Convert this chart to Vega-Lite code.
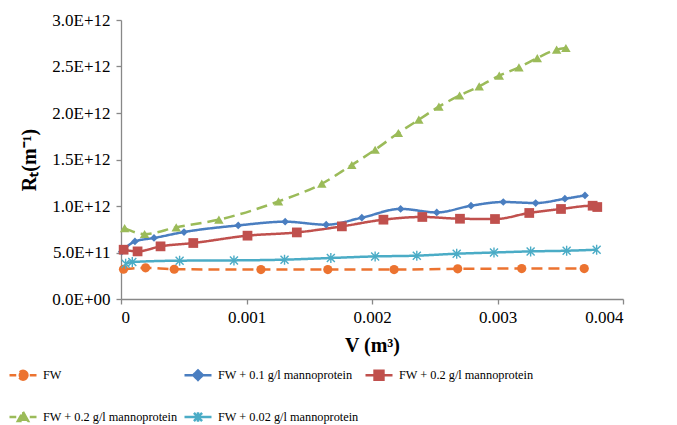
{
  "$schema": "https://vega.github.io/schema/vega-lite/v6.json",
  "autosize": {"type": "none"},
  "padding": {"left": 121, "top": 20, "right": 54, "bottom": 126},
  "width": 502,
  "height": 279,
  "background": "white",
  "config": {
    "view": {"stroke": null},
    "font": "Liberation Serif",
    "axis": {"grid": false, "domainColor": "#888888", "tickColor": "#888888", "domainWidth": 1.3, "tickWidth": 1.3, "labelColor": "#000000", "titleColor": "#000000", "labelFont": "Liberation Serif", "titleFont": "Liberation Serif", "labelFontSize": 17, "titleFontSize": 20, "titleFontWeight": "bold"}
  },
  "data": {
    "values": [
      {"s": "a", "x": 0.00002, "y": 3.2e11},
      {"s": "a", "x": 0.000196, "y": 3.35e11},
      {"s": "a", "x": 0.000424, "y": 3.2e11},
      {"s": "a", "x": 0.001115, "y": 3.17e11},
      {"s": "a", "x": 0.001648, "y": 3.17e11},
      {"s": "a", "x": 0.002176, "y": 3.17e11},
      {"s": "a", "x": 0.002683, "y": 3.25e11},
      {"s": "a", "x": 0.003193, "y": 3.27e11},
      {"s": "a", "x": 0.003691, "y": 3.27e11},

      {"s": "b", "x": 0.000006, "y": 5.09e11},
      {"s": "b", "x": 0.000111, "y": 6.19e11},
      {"s": "b", "x": 0.000263, "y": 6.56e11},
      {"s": "b", "x": 0.000502, "y": 7.2e11},
      {"s": "b", "x": 0.000934, "y": 7.91e11},
      {"s": "b", "x": 0.001308, "y": 8.31e11},
      {"s": "b", "x": 0.001635, "y": 7.99e11},
      {"s": "b", "x": 0.001919, "y": 8.74e11},
      {"s": "b", "x": 0.002228, "y": 9.69e11},
      {"s": "b", "x": 0.002516, "y": 9.31e11},
      {"s": "b", "x": 0.002789, "y": 1.003e12},
      {"s": "b", "x": 0.003046, "y": 1.043e12},
      {"s": "b", "x": 0.003304, "y": 1.032e12},
      {"s": "b", "x": 0.003537, "y": 1.078e12},
      {"s": "b", "x": 0.003697, "y": 1.114e12},

      {"s": "c", "x": 0.000021, "y": 5.3e11},
      {"s": "c", "x": 0.000132, "y": 5.12e11},
      {"s": "c", "x": 0.000315, "y": 5.66e11},
      {"s": "c", "x": 0.000576, "y": 6.02e11},
      {"s": "c", "x": 0.001008, "y": 6.81e11},
      {"s": "c", "x": 0.001401, "y": 7.16e11},
      {"s": "c", "x": 0.00176, "y": 7.81e11},
      {"s": "c", "x": 0.002091, "y": 8.53e11},
      {"s": "c", "x": 0.002401, "y": 8.82e11},
      {"s": "c", "x": 0.002701, "y": 8.63e11},
      {"s": "c", "x": 0.00298, "y": 8.6e11},
      {"s": "c", "x": 0.003253, "y": 9.25e11},
      {"s": "c", "x": 0.003506, "y": 9.68e11},
      {"s": "c", "x": 0.003758, "y": 1.003e12},
      {"s": "c", "x": 0.003795, "y": 9.89e11},

      {"s": "d", "x": 0.000029, "y": 7.63e11},
      {"s": "d", "x": 0.000188, "y": 6.99e11},
      {"s": "d", "x": 0.00044, "y": 7.7e11},
      {"s": "d", "x": 0.00078, "y": 8.53e11},
      {"s": "d", "x": 0.001255, "y": 1.049e12},
      {"s": "d", "x": 0.0016, "y": 1.24e12},
      {"s": "d", "x": 0.001839, "y": 1.441e12},
      {"s": "d", "x": 0.002025, "y": 1.605e12},
      {"s": "d", "x": 0.00221, "y": 1.785e12},
      {"s": "d", "x": 0.002373, "y": 1.928e12},
      {"s": "d", "x": 0.002533, "y": 2.068e12},
      {"s": "d", "x": 0.002698, "y": 2.188e12},
      {"s": "d", "x": 0.002854, "y": 2.286e12},
      {"s": "d", "x": 0.003014, "y": 2.401e12},
      {"s": "d", "x": 0.003171, "y": 2.49e12},
      {"s": "d", "x": 0.003317, "y": 2.591e12},
      {"s": "d", "x": 0.003471, "y": 2.681e12},
      {"s": "d", "x": 0.003545, "y": 2.699e12},

      {"s": "e", "x": 0.000037, "y": 3.8e11},
      {"s": "e", "x": 0.00009, "y": 3.98e11},
      {"s": "e", "x": 0.000467, "y": 4.12e11},
      {"s": "e", "x": 0.0009, "y": 4.15e11},
      {"s": "e", "x": 0.001303, "y": 4.23e11},
      {"s": "e", "x": 0.001672, "y": 4.41e11},
      {"s": "e", "x": 0.002025, "y": 4.58e11},
      {"s": "e", "x": 0.002357, "y": 4.66e11},
      {"s": "e", "x": 0.002675, "y": 4.87e11},
      {"s": "e", "x": 0.002972, "y": 5.0e11},
      {"s": "e", "x": 0.003264, "y": 5.12e11},
      {"s": "e", "x": 0.003551, "y": 5.19e11},
      {"s": "e", "x": 0.00379, "y": 5.3e11}
    ]
  },
  "encoding": {
    "x": {
      "field": "x", "type": "quantitative",
      "scale": {"domain": [0, 0.004], "nice": false, "zero": false},
      "axis": {"values": [0, 0.001, 0.002, 0.003, 0.004], "labelExpr": "format(datum.value, '.3~f')", "tickSize": 5, "labelPadding": 5, "title": "V (m³)", "titlePadding": 10}
    },
    "y": {
      "field": "y", "type": "quantitative",
      "scale": {"domain": [0, 3000000000000], "nice": false},
      "axis": {"values": [0, 500000000000, 1000000000000, 1500000000000, 2000000000000, 2500000000000, 3000000000000], "labelExpr": "datum.value == 0 ? '0.0E+00' : replace(format(datum.value, '.1e'), 'e', 'E')", "tickSize": 5, "labelPadding": 6, "title": "Rₜ(m⁻¹)", "titlePadding": 12}
    },
    "color": {
      "field": "s", "type": "nominal",
      "scale": {"domain": ["a", "b", "c", "d", "e"], "range": ["#EC7330", "#4A7EC0", "#C0504D", "#9BBB59", "#4BACC6"]},
      "legend": {
        "orient": "none",
        "legendX": -113,
        "legendY": 340,
        "title": null,
        "columns": 3,
        "direction": "horizontal",
        "columnPadding": 1,
        "rowPadding": 17,
        "padding": 0,
        "symbolSize": 729,
        "symbolStrokeWidth": 2.5,
        "labelFont": "Liberation Serif",
        "labelFontSize": 12.3,
        "labelColor": "#000000",
        "labelOffset": 5,
        "labelLimit": 300,
        "labelExpr": "datum.value == 'a' ? 'FW' : datum.value == 'b' ? 'FW + 0.1 g/l mannoprotein' : datum.value == 'c' ? 'FW + 0.2 g/l mannoprotein' : datum.value == 'd' ? 'FW + 0.2 g/l mannoprotein' : 'FW + 0.02 g/l mannoprotein'",
        "encode": {
          "symbols": {
            "update": {
              "shape": {"signal": "datum.value == 'a' ? 'M-1,0H-0.5M0.5,0H1M0.33,0A0.33,0.33 0 1,1 -0.33,0A0.33,0.33 0 1,1 0.33,0Z' : datum.value == 'b' ? 'M-1,0H1M0,-0.35L0.35,0L0,0.35L-0.35,0Z' : datum.value == 'c' ? 'M-1,0H1M-0.33,-0.33H0.33V0.33H-0.33Z' : datum.value == 'd' ? 'M-1,0H-0.5M0.5,0H1M0,-0.38L0.38,0.3H-0.38Z' : 'M-1,0H1M0,-0.35V0.35M-0.3,-0.3L0.3,0.3M-0.3,0.3L0.3,-0.3'"},
              "fill": {"signal": "scale('color', datum.value)"},
              "stroke": {"signal": "scale('color', datum.value)"},
              "strokeWidth": {"value": 2.5},
              "strokeDash": {"value": []},
              "opacity": {"value": 1}
            }
          }
        }
      }
    }
  },
  "layer": [
    {
      "mark": {"type": "line", "interpolate": "monotone", "strokeWidth": 2.5},
      "encoding": {
        "strokeDash": {
          "field": "s", "type": "nominal",
          "scale": {"domain": ["a", "b", "c", "d", "e"], "range": [[11, 6], [1, 0], [1, 0], [11, 6], [1, 0]]},
          "legend": null
        }
      }
    },
    {
      "transform": [{"filter": "datum.s == 'a'"}],
      "mark": {"type": "point", "shape": "circle", "size": 85, "filled": true, "opacity": 1}
    },
    {
      "transform": [{"filter": "datum.s == 'b'"}],
      "mark": {"type": "point", "shape": "diamond", "size": 60, "filled": true, "opacity": 1}
    },
    {
      "transform": [{"filter": "datum.s == 'c'"}],
      "mark": {"type": "point", "shape": "square", "size": 95, "filled": true, "opacity": 1}
    },
    {
      "transform": [{"filter": "datum.s == 'd'"}],
      "mark": {"type": "point", "shape": "triangle-up", "size": 90, "filled": true, "opacity": 1}
    },
    {
      "transform": [{"filter": "datum.s == 'e'"}],
      "mark": {"type": "point", "shape": "M0,-1V1M-0.8,-0.8L0.8,0.8M-0.8,0.8L0.8,-0.8", "size": 100, "filled": false, "strokeWidth": 1.4, "opacity": 1}
    }
  ]
}
